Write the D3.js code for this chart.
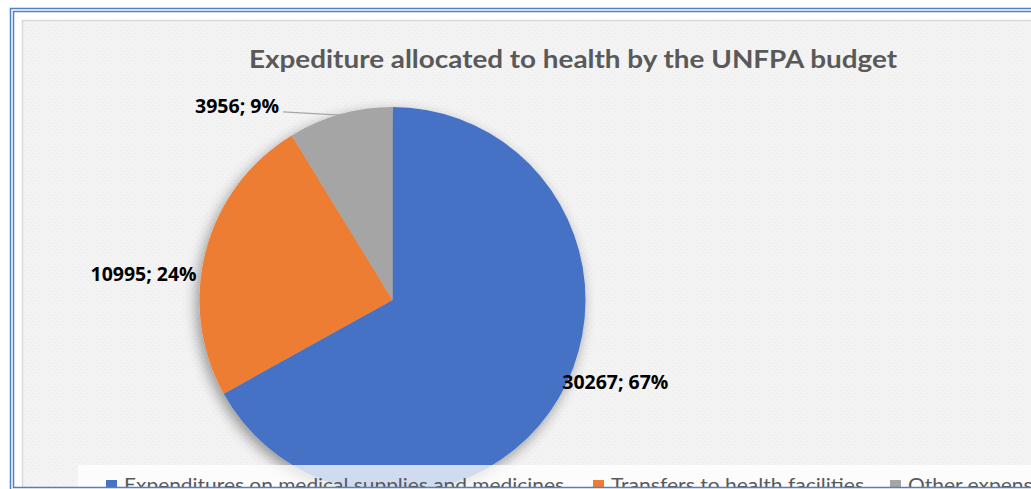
<!DOCTYPE html>
<html>
<head>
<meta charset="utf-8">
<script src="https://cdn.jsdelivr.net/npm/d3@7"></script>
<style>
  html, body { margin: 0; padding: 0; background: #ffffff; }
  svg { display: block; }
</style>
</head>
<body>
<div id="chart"></div>
<script>
// chart data
var categories = ["Expenditures on medical supplies and medicines", "Transfers to health facilities", "Other expenses"];
var values = [30267, 10995, 3956];
var colors = ["#4472c4", "#ed7d31", "#a5a5a5"];
var title_text = "Expediture allocated to health by the UNFPA budget";

var width = 1031, height = 489;
var svg = d3.select("#chart").append("svg")
  .attr("width", width)
  .attr("height", height);

var defs = svg.append("defs");

// faint texture of the excel chart area
var pat = defs.append("pattern")
  .attr("id", "texture")
  .attr("width", 6).attr("height", 6)
  .attr("patternUnits", "userSpaceOnUse");
pat.append("rect").attr("width", 6).attr("height", 6).attr("fill", "#f3f3f3");
pat.append("rect").attr("x", 0).attr("y", 0).attr("width", 1).attr("height", 1).attr("fill", "#e9e9e9");
pat.append("rect").attr("x", 3).attr("y", 3).attr("width", 1).attr("height", 1).attr("fill", "#e9e9e9");

// soft shadow around the pie
var shadow = defs.append("filter")
  .attr("id", "pie-shadow")
  .attr("x", "-20%").attr("y", "-20%")
  .attr("width", "140%").attr("height", "140%");
shadow.append("feGaussianBlur").attr("in", "SourceAlpha").attr("stdDeviation", 7).attr("result", "blur");
shadow.append("feOffset").attr("in", "blur").attr("dx", -3).attr("dy", 5).attr("result", "off");
shadow.append("feComponentTransfer").attr("in", "off").attr("result", "soft")
  .append("feFuncA").attr("type", "linear").attr("slope", 0.4);
var merge = shadow.append("feMerge");
merge.append("feMergeNode").attr("in", "soft");
merge.append("feMergeNode").attr("in", "SourceGraphic");

defs.append("clipPath").attr("id", "clip-area")
  .append("rect").attr("x", 14).attr("y", 12).attr("width", width).attr("height", 475.5);

var area = svg.append("g").attr("clip-path", "url(#clip-area)");

// chart area
area.append("rect")
  .attr("x", 22.5).attr("y", 20.5)
  .attr("width", width).attr("height", 480)
  .attr("fill", "url(#texture)")
  .attr("stroke", "#d9d9d9")
  .attr("stroke-width", 1.5);

// pie
var cx = 392.5, cy = 300, radius = 193;
var total = d3.sum(values);
var pct = d3.format(".0%");

var pie = d3.pie().sort(null).startAngle(0).endAngle(2 * Math.PI);
var arc = d3.arc().innerRadius(0).outerRadius(radius);
var arcs = pie(values);

var pie_g = area.append("g")
  .attr("transform", "translate(" + cx + "," + cy + ")")
  .attr("filter", "url(#pie-shadow)");

pie_g.selectAll("path")
  .data(arcs)
  .enter().append("path")
  .attr("d", arc)
  .attr("fill", function(d, i) { return colors[i]; });

// legend band (semi transparent, the pie shows through it)
var legend_y = 465;
area.append("rect")
  .attr("x", 78).attr("y", legend_y)
  .attr("width", width).attr("height", 40)
  .attr("fill", "#ffffff")
  .attr("fill-opacity", 0.75);

// helper: squeeze a text to a given width (Calibri is narrower than the fonts we have)
function fit_text(sel, target) {
  var w = sel.node().getComputedTextLength();
  sel.attr("textLength", target).attr("lengthAdjust", "spacingAndGlyphs");
  return target / w;
}

// legend items
var legend_x = [106, 593, 890];
var legend_w = [440, 253];
var legend_g = area.append("g");
var scale_sum = 0;
var leg_texts = [];
categories.forEach(function(c, i) {
  legend_g.append("rect")
    .attr("x", legend_x[i]).attr("y", legend_y + 15)
    .attr("width", 11).attr("height", 11)
    .attr("fill", colors[i]);
  var t = legend_g.append("text")
    .attr("x", legend_x[i] + 18)
    .attr("y", legend_y + 27)
    .attr("font-family", "Lato, 'Open Sans', sans-serif")
    .attr("font-size", "19.5px")
    .attr("fill", "#595959")
    .text(c);
  leg_texts.push(t);
  if (i < legend_w.length) scale_sum += fit_text(t, legend_w[i]);
});
var avg_scale = scale_sum / legend_w.length;
var last = leg_texts[2];
last.attr("textLength", last.node().getComputedTextLength() * avg_scale)
  .attr("lengthAdjust", "spacingAndGlyphs");

// data labels
var label_font = "'Open Sans', Lato, sans-serif";
var label_size = "19.5px";
function label_text(i) {
  return values[i] + "; " + pct(values[i] / total);
}
var label_g = area.append("g");

// blue slice, to the right of the edge
var l0 = label_g.append("text")
  .attr("x", cx + radius * 0.88)
  .attr("y", cy + 89)
  .attr("font-family", label_font).attr("font-weight", "bold")
  .attr("font-size", label_size).attr("fill", "#000000")
  .text(label_text(0));
fit_text(l0, 106);

// orange slice, outside on the left
var l1 = label_g.append("text")
  .attr("x", cx - radius * 1.015)
  .attr("y", cy - 19)
  .attr("text-anchor", "end")
  .attr("font-family", label_font).attr("font-weight", "bold")
  .attr("font-size", label_size).attr("fill", "#000000")
  .text(label_text(1));
fit_text(l1, 106);

// gray slice, outside with a leader line
var g_mid = (arcs[2].startAngle + arcs[2].endAngle) / 2;
var line_end = [cx + (radius - 1) * Math.sin(g_mid), cy - (radius - 1) * Math.cos(g_mid)];
var label_pt = [cx - radius * 0.588, cy - radius * 0.97];
label_g.append("path")
  .attr("d", d3.line()([[label_pt[0] + 4, label_pt[1] - 1], line_end]))
  .attr("stroke", "#a6a6a6").attr("stroke-width", 1.3).attr("fill", "none");
var l2 = label_g.append("text")
  .attr("x", label_pt[0])
  .attr("y", label_pt[1])
  .attr("text-anchor", "end")
  .attr("font-family", label_font).attr("font-weight", "bold")
  .attr("font-size", label_size).attr("fill", "#000000")
  .text(label_text(2));
fit_text(l2, 84);

// title
var title = area.append("text")
  .attr("x", 573).attr("y", 68)
  .attr("text-anchor", "middle")
  .attr("font-family", "Lato, 'Open Sans', sans-serif").attr("font-weight", "bold")
  .attr("font-size", "25px").attr("fill", "#595959")
  .text(title_text);
fit_text(title, 648);

// double blue frame round the picture
svg.append("rect")
  .attr("x", 10.5).attr("y", 8.5)
  .attr("width", width + 20).attr("height", 482)
  .attr("fill", "none").attr("stroke", "#4f81c7").attr("stroke-width", 1.5);
svg.append("rect")
  .attr("x", 13.5).attr("y", 11.5)
  .attr("width", width + 20).attr("height", 476)
  .attr("fill", "none").attr("stroke", "#4f81c7").attr("stroke-width", 1.5);
</script>
</body>
</html>
